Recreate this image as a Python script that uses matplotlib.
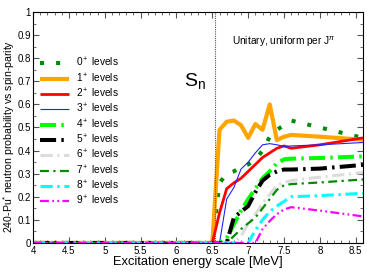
import matplotlib
matplotlib.use("Agg")
import matplotlib.pyplot as plt
from matplotlib.ticker import MultipleLocator

plt.rcParams['font.family'] = ['Liberation Sans', 'DejaVu Sans']
plt.rcParams['mathtext.fontset'] = 'custom'
plt.rcParams['mathtext.rm'] = 'Liberation Sans'
plt.rcParams['mathtext.it'] = 'Liberation Sans:italic'

# excitation energy grid (MeV)
energy = [4.0, 6.5, 6.6, 6.7, 6.8, 6.9, 7.0, 7.1, 7.2, 7.3, 7.4, 7.5, 7.6, 8.0, 8.6]

# neutron probability per spin-parity
p0 = [0, 0, 0.26, 0.30, 0.31, 0.33, 0.34, 0.36, 0.40, 0.46, 0.49, 0.51, 0.53, 0.50, 0.455]
p1 = [0, 0, 0.49, 0.525, 0.53, 0.51, 0.455, 0.515, 0.49, 0.60, 0.445, 0.46, 0.468, 0.46, 0.447]
p2 = [0, 0, 0.13, 0.235, 0.26, 0.28, 0.31, 0.34, 0.37, 0.39, 0.41, 0.42, 0.41, 0.425, 0.455]
p3 = [0, 0, 0.0, 0.19, 0.24, 0.32, 0.35, 0.39, 0.425, 0.43, 0.425, 0.418, 0.42, 0.425, 0.435]
p4 = [0, 0, 0, 0.02, 0.08, 0.14, 0.19, 0.235, 0.28, 0.31, 0.345, 0.362, 0.365, 0.368, 0.375]
p5 = [0, 0, 0, 0, 0.11, 0.135, 0.16, 0.22, 0.27, 0.295, 0.31, 0.318, 0.318, 0.322, 0.338]
p6 = [0, 0, 0, 0, 0, 0.03, 0.085, 0.125, 0.17, 0.21, 0.25, 0.262, 0.27, 0.285, 0.305]
p7 = [0, 0, 0, 0, 0.03, 0.06, 0.085, 0.11, 0.15, 0.19, 0.23, 0.25, 0.255, 0.262, 0.275]
p8 = [0, 0, 0, 0, 0, 0, 0, 0.055, 0.10, 0.135, 0.16, 0.18, 0.20, 0.205, 0.215]
p9 = [0, 0, 0, 0, 0, 0, 0, 0, 0.06, 0.095, 0.125, 0.145, 0.155, 0.14, 0.115]

series = [p0, p1, p2, p3, p4, p5, p6, p7, p8, p9]
labels = [f"{j}$^+$ levels" for j in range(10)]
colors = ['#008b00', '#ffa500', '#ff0000', '#2222ff', '#00ff00',
          '#000000', '#dcdcdc', '#008b00', '#00ffff', '#ff00ff']
widths = [2.9, 3.0, 2.0, 0.8, 2.9, 2.9, 2.2, 1.6, 2.2, 1.6]
dashes = [(1, 3), None, None, None, (4, 1.3, 0.6, 1.3), (4, 1.3, 0.6, 1.3),
          (4, 1.5, 0.7, 1.5), (4, 2, 1, 2), (4, 1.5, 0.8, 1.5), (4, 1.5, 0.8, 1.5, 0.8, 1.5)]

sn = 6.534

fig = plt.figure(figsize=(3.67, 2.73), dpi=100)
ax = fig.add_axes([0.09, 0.11, 0.899, 0.846])

for y, lab, c, w, d in zip(series, labels, colors, widths, dashes):
    line, = ax.plot(energy, y, color=c, lw=w, label=lab, solid_capstyle='butt',
                    dash_capstyle='butt')
    if d is not None:
        line.set_dashes(d)

ax.axvline(sn, color='#555555', lw=0.8, ls=(0, (1, 1)))

ax.text(6.77, 0.87, "Unitary, uniform per J$^{\\pi}$", fontsize=7.3, va='center')
ax.text(6.1, 0.70, "S$_\\mathregular{n}$", fontsize=14, va='center')

ax.set_xlim(4, 8.6)
ax.set_ylim(0, 1)
ax.xaxis.set_major_locator(MultipleLocator(0.5))
ax.xaxis.set_minor_locator(MultipleLocator(0.1))
ax.yaxis.set_major_locator(MultipleLocator(0.1))
ax.yaxis.set_minor_locator(MultipleLocator(0.05))
ax.xaxis.set_major_formatter(plt.FuncFormatter(lambda v, p: f"{v:g}"))
ax.yaxis.set_major_formatter(plt.FuncFormatter(lambda v, p: f"{v:g}"))
ax.tick_params(which='both', direction='in', top=True, right=True, labelsize=7,
               color='#555555', pad=2)
ax.tick_params(axis='y', pad=1.5)
ax.tick_params(which='major', length=4)
ax.tick_params(which='minor', length=2)

ax.set_xlabel("Excitation energy scale [MeV]", fontsize=9.3, labelpad=0)
ax.set_ylabel("240-Pu$^{*}$ neutron probability vs spin-parity", fontsize=7.6)
ax.yaxis.set_label_coords(-0.05, 0.46)

ax.legend(loc='upper left', bbox_to_anchor=(0.0, 0.84), frameon=False, fontsize=7.3,
          handlelength=2.8, labelspacing=0.2, handletextpad=0.7, borderaxespad=0.3)

fig.savefig("out.png", dpi=100)
